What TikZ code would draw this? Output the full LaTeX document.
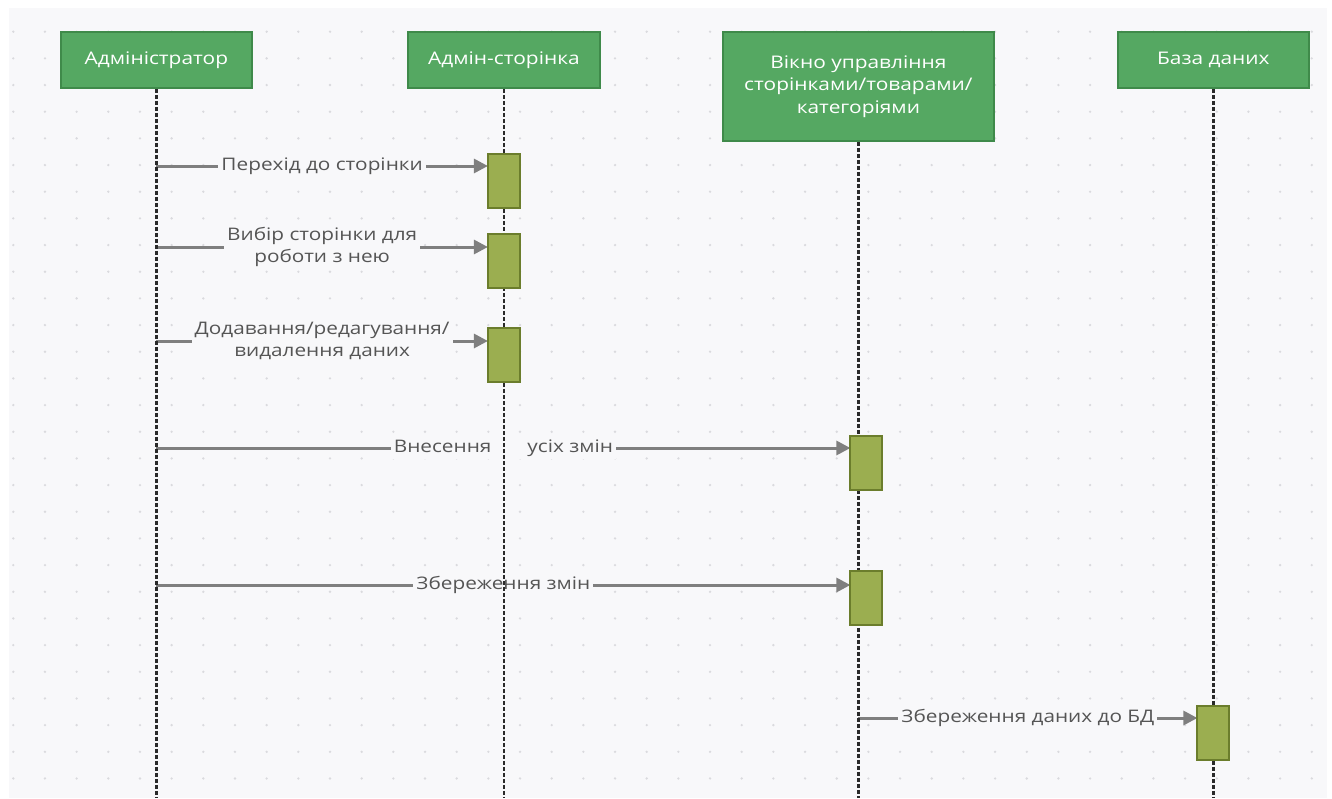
\documentclass[tikz,border=0pt]{standalone}
\usepackage{fontspec}
\setmainfont[FakeStretch=1.2]{Open Sans}
\usetikzlibrary{arrows.meta}
\definecolor{canvas}{HTML}{F8F8FA}
\definecolor{griddot}{HTML}{DADADE}
\definecolor{headfill}{HTML}{55A862}
\definecolor{headedge}{HTML}{3F8A4A}
\definecolor{actfill}{HTML}{9BAE50}
\definecolor{actedge}{HTML}{6B7D2C}
\definecolor{msgline}{HTML}{7F7F7F}
\definecolor{msgtext}{HTML}{555555}
\definecolor{lifeline}{HTML}{2A2A2A}
\tikzset{
  x=1pt, y=1pt,
  header/.style={draw=headedge, line width=1.8pt, fill=headfill, text=white,
    font=\fontsize{17.4}{22.5}\selectfont, align=center, inner sep=0pt, anchor=north west},
  actbox/.style={draw=actedge, line width=2pt, fill=actfill, minimum width=30pt,
    minimum height=52pt, inner sep=0pt, anchor=north},
  msg/.style={draw=msgline, line width=3pt, -{Triangle[length=14pt,width=14pt]}},
  msglabel/.style={fill=canvas, text=msgtext, inner sep=3pt, align=center,
    font=\fontsize{17.3}{22}\selectfont},
  lifelinestyle/.style={draw=lifeline, line width=2.8pt, dash pattern=on 4pt off 2pt},
}
\begin{document}
\begin{tikzpicture}
\useasboundingbox (0,0) rectangle (1332,-798);
\fill[white] (0,0) rectangle (1332,-798);
\fill[canvas] (9,-8) rectangle (1327,-798);
% dotted grid
\foreach \i in {0,...,41} {
  \foreach \j in {0,...,28} {
    \fill[griddot] ({13.3+31.67*\i},{-31.7-26.67*\j}) circle (1.3pt);
  }
}
% lifeline heads
\node[header, minimum width=191pt, minimum height=56pt] (admin) at (60,-31) {Адміністратор};
\node[header, minimum width=192pt, minimum height=56pt] (page) at (407,-31) {Адмін-сторінка};
\node[header, minimum width=271pt, minimum height=109pt] (win) at (722,-31) {Вікно управління\\сторінками/товарами/\\категоріями};
\node[header, minimum width=191pt, minimum height=56pt] (db) at (1117,-31) {База даних};
% lifeline ends
\coordinate (adminEnd) at (admin.south |- 0,-798);
\coordinate (pageEnd) at (page.south |- 0,-798);
\coordinate (winEnd) at (win.south |- 0,-798);
\coordinate (dbEnd) at (db.south |- 0,-798);
% activation bars
\path (page.south |- 0,-154) node[actbox] (a1) {};
\path (page.south |- 0,-234) node[actbox] (a2) {};
\path (page.south |- 0,-328) node[actbox] (a3) {};
\path (win.south |- 0,-436) node[actbox, xshift=8pt] (a4) {};
\path (win.south |- 0,-571) node[actbox, xshift=8pt] (a5) {};
\path (db.south |- 0,-706) node[actbox] (a6) {};
% message start points on the lifelines
\coordinate (m1) at (admin.south |- 0,-166);
\coordinate (m2) at (admin.south |- 0,-247);
\coordinate (m3) at (admin.south |- 0,-341);
\coordinate (m4) at (admin.south |- 0,-448);
\coordinate (m5) at (admin.south |- 0,-585);
\coordinate (m6) at (win.south |- 0,-718);
% messages
\draw[msg] (m1) -- node[msglabel] {Перехід до сторінки} (m1 -| a1.west);
\draw[msg] (m2) -- node[msglabel] {Вибір сторінки для\\роботи з нею} (m2 -| a2.west);
\draw[msg] (m3) -- node[msglabel] {Додавання/редагування/\\видалення даних} (m3 -| a3.west);
\draw[msg] (m4) -- node[msglabel] {Внесення\hspace{36pt}усіх змін} (m4 -| a4.west);
\draw[msg] (m5) -- node[msglabel] {Збереження змін} (m5 -| a5.west);
\draw[msg] (m6) -- node[msglabel] {Збереження даних до БД} (m6 -| a6.west);
% lifelines
\draw[lifelinestyle] (admin.south) -- (adminEnd);
\draw[lifelinestyle] (page.south) -- (pageEnd);
\draw[lifelinestyle] (win.south) -- (winEnd);
\draw[lifelinestyle] (db.south) -- (dbEnd);
% activation bars on top of the lifelines
\foreach \a in {a1,a2,a3,a4,a5,a6} {
  \draw[draw=actedge, line width=2pt, fill=actfill] (\a.north west) rectangle (\a.south east);
}
\end{tikzpicture}
\end{document}
